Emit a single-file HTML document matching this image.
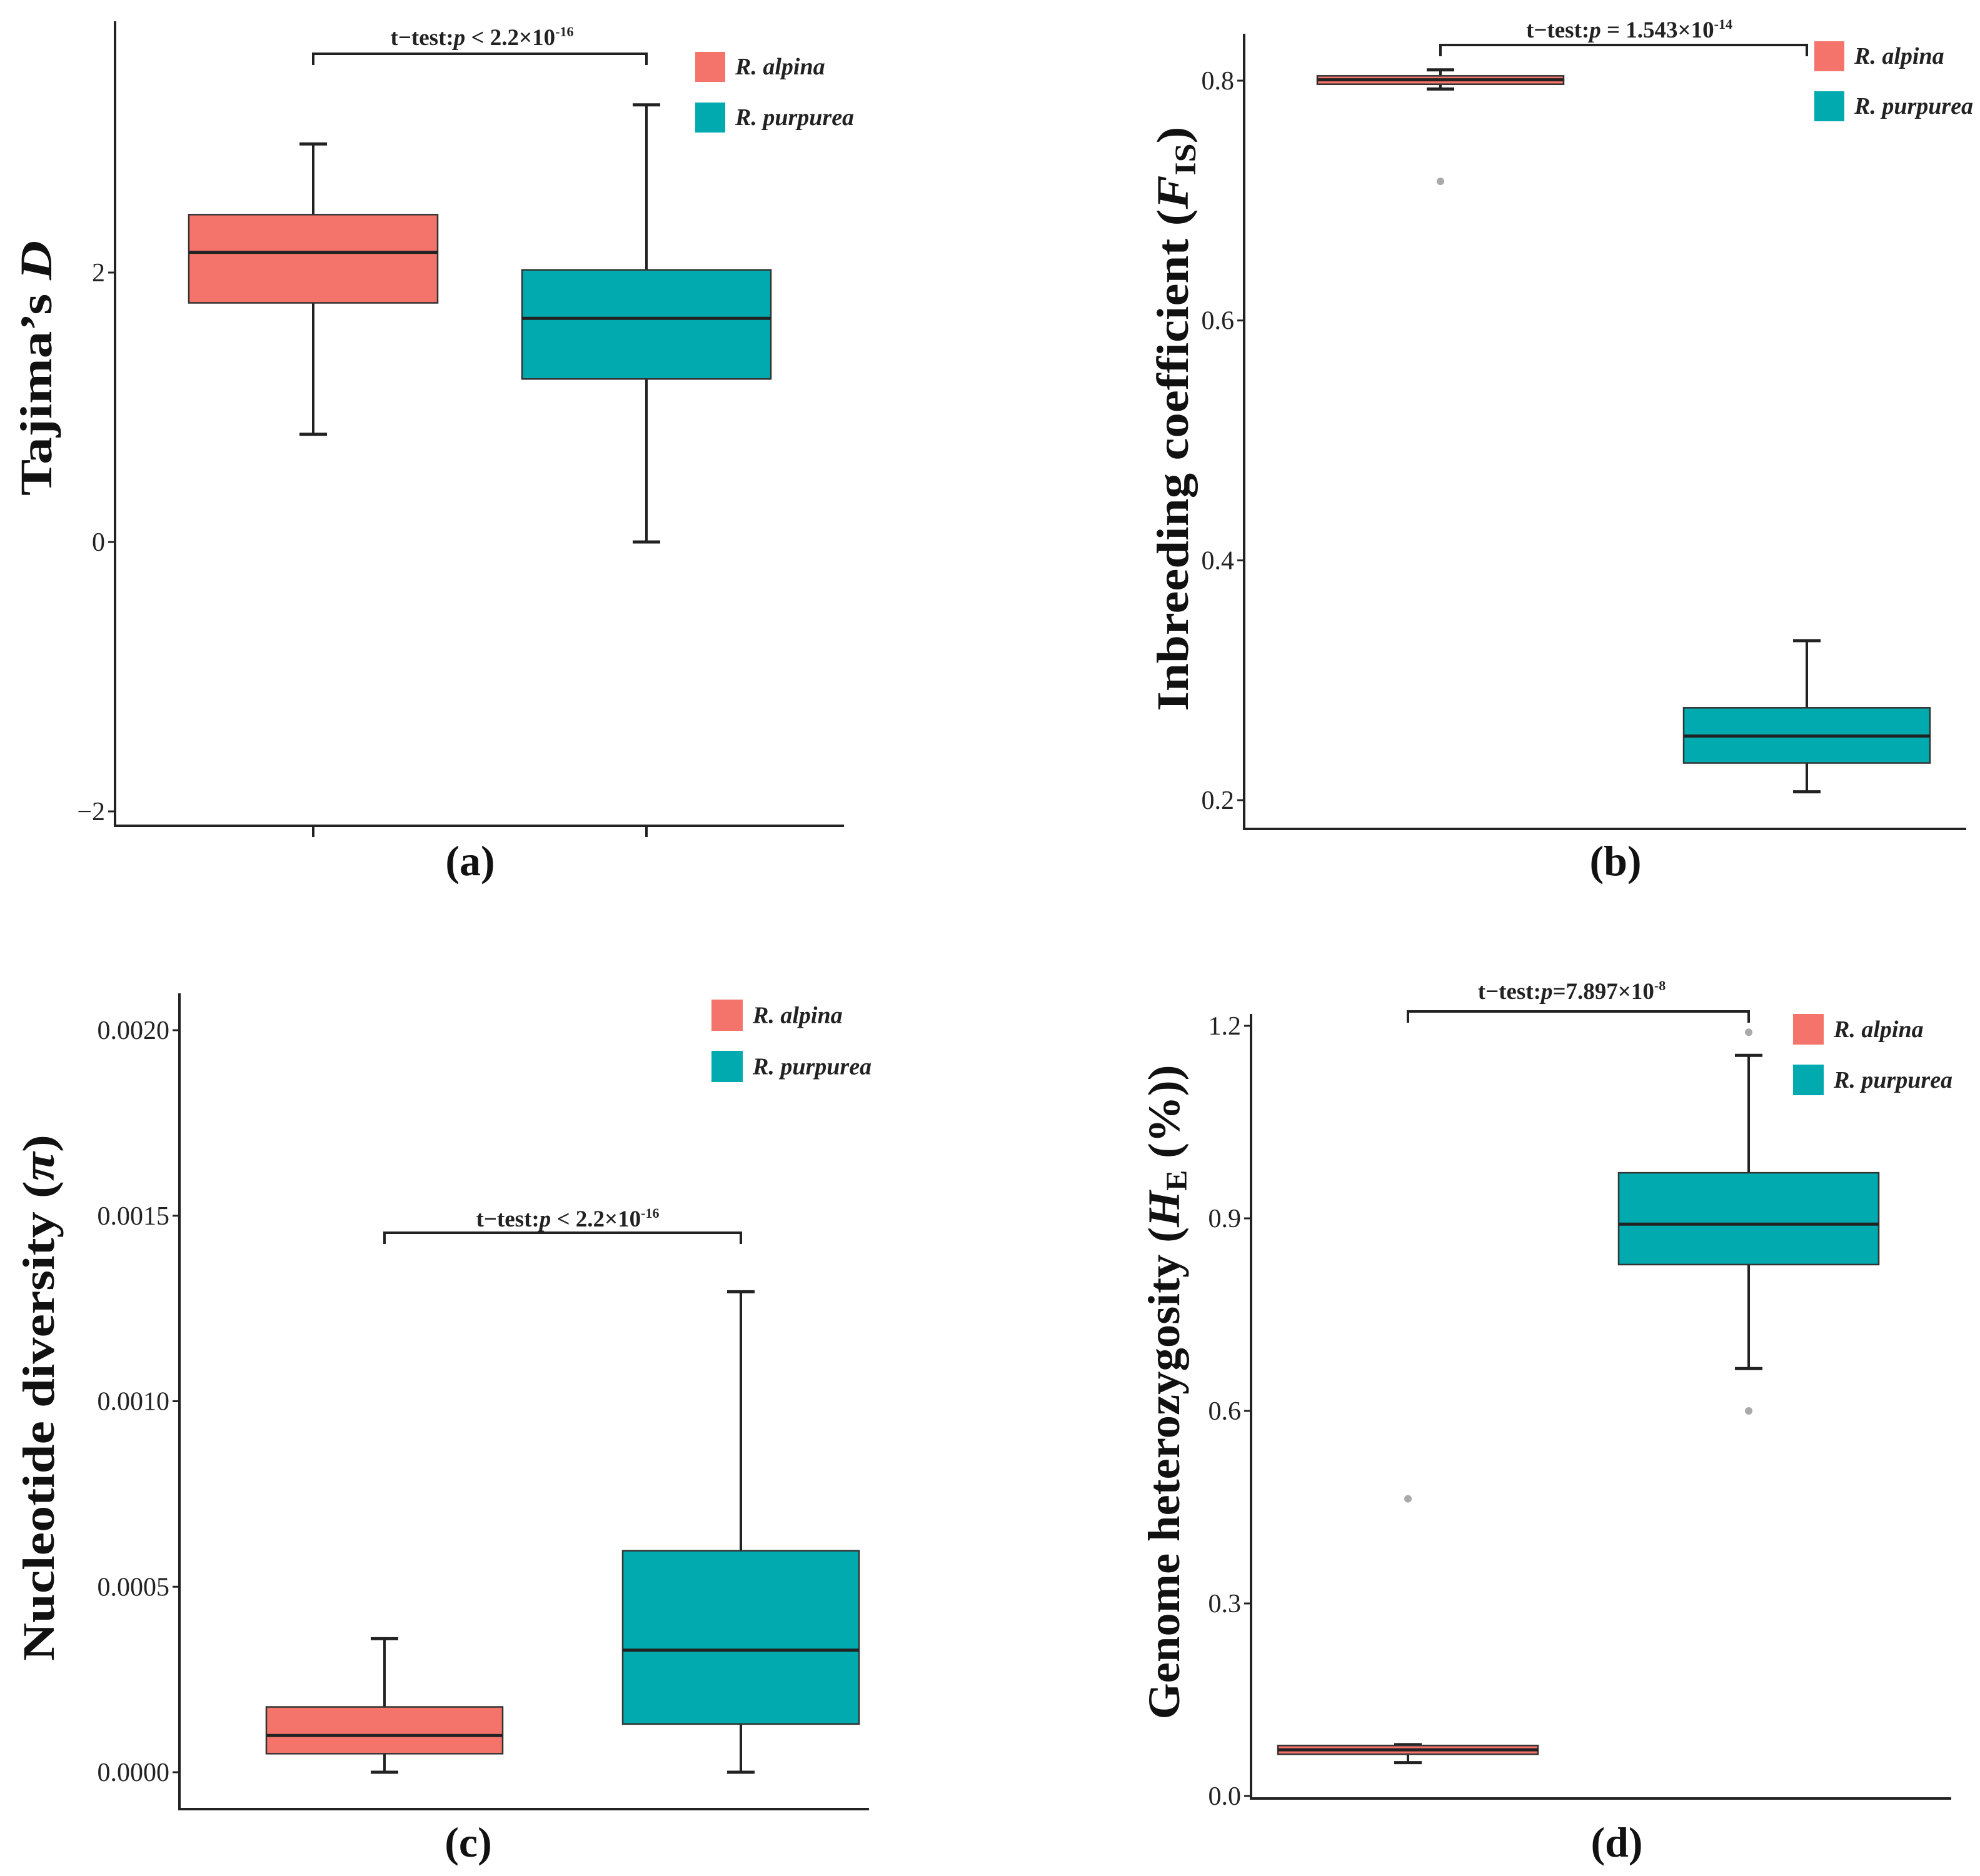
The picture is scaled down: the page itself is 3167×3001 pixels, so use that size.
<!DOCTYPE html>
<html><head><meta charset="utf-8"><style>
html,body{margin:0;padding:0;background:#fff;}
svg{display:block;font-family:"Liberation Serif",serif;}
</style></head><body>
<svg id="fig" width="3167" height="3001" viewBox="0 0 3167 3001" xmlns="http://www.w3.org/2000/svg"></svg>
<script>
// ---- data ----
const groups = ["R. alpina", "R. purpurea"];
const colors = ["#F4736A", "#00AAAE"];
// panel a: Tajima's D  [low, q1, median, q3, high]
const tajimaAlpina = [0.80, 1.775, 2.15, 2.43, 2.955];
const tajimaPurpurea = [0.0, 1.21, 1.66, 2.02, 3.245];
const tajimaTicks = [-2, 0, 2];
// panel b: FIS
const fisAlpina = [0.793, 0.797, 0.8007, 0.804, 0.809];
const fisPurpurea = [0.207, 0.231, 0.2535, 0.277, 0.333];
const fisOutAlpina = [0.716];
const fisOutPurpurea = [];
const fisTicks = [0.2, 0.4, 0.6, 0.8];
// panel c: pi
const piAlpina = [0.0, 0.00005, 0.0000989, 0.000176, 0.00036];
const piPurpurea = [0.0, 0.00013, 0.000329, 0.000597, 0.001295];
const piTicks = [0.0, 0.0005, 0.0010, 0.0015, 0.0020];
// panel d: HE
const heAlpina = [0.052, 0.065, 0.072, 0.0787, 0.08];
const hePurpurea = [0.666, 0.828, 0.891, 0.971, 1.154];
const heOutAlpina = [0.463];
const heOutPurpurea = [1.19, 0.6];
const heTicks = [0.0, 0.3, 0.6, 0.9, 1.2];

const NS = "http://www.w3.org/2000/svg";
const svg = document.getElementById("fig");
function mk(tag, attrs, parent) {
  const e = document.createElementNS(NS, tag);
  for (const k in attrs) e.setAttribute(k, attrs[k]);
  (parent || svg).appendChild(e);
  return e;
}

function panel(cfg) {
  const g = mk("g", {});
  
  
  const y = v => cfg.y0px + (v - cfg.v0) * (cfg.y1px - cfg.y0px) / (cfg.v1 - cfg.v0);
  const ax = mk("path", {d:`M${cfg.ax} ${cfg.top} V${cfg.bottom} H${cfg.right}`, fill:"none", stroke:"#222", "stroke-width":4}, g);
  
  
  cfg.ticks.forEach(t => {
    const yy = y(t);
    const tk = mk("line", {x1:cfg.ax-11, x2:cfg.ax, y1:yy, y2:yy, stroke:"#222", "stroke-width":3}, g);
    
    
    const tl = mk("text", {x:cfg.ax-16, y:yy+14, "text-anchor":"end", "font-size":42, fill:"#222"}, g);
    
    
    tl.textContent = cfg.fmt(t);
  });
  if (cfg.xticks) cfg.centers.forEach(cx => {
    const xt = mk("line", {x1:cx, x2:cx, y1:cfg.bottom, y2:cfg.bottom+18, stroke:"#222", "stroke-width":4}, g);
    
    
  });
  cfg.series.forEach((s, i) => {
    const cx = cfg.centers[i], hw = cfg.halfW, cap = 22;
    const bg = mk("g", {}, g);
    
    
    mk("line", {x1:cx, x2:cx, y1:y(s[4]), y2:y(s[3]), stroke:"#222", "stroke-width":4}, bg);
    mk("line", {x1:cx, x2:cx, y1:y(s[1]), y2:y(s[0]), stroke:"#222", "stroke-width":4}, bg);
    mk("line", {x1:cx-cap, x2:cx+cap, y1:y(s[4]), y2:y(s[4]), stroke:"#222", "stroke-width":5}, bg);
    mk("line", {x1:cx-cap, x2:cx+cap, y1:y(s[0]), y2:y(s[0]), stroke:"#222", "stroke-width":5}, bg);
    mk("rect", {x:cx-hw, y:y(s[3]), width:2*hw, height:Math.max(2, y(s[1])-y(s[3])), fill:colors[i], stroke:"#333", "stroke-width":2.5}, bg);
    mk("line", {x1:cx-hw, x2:cx+hw, y1:y(s[2]), y2:y(s[2]), stroke:"#222", "stroke-width":5}, bg);
    (cfg.outliers[i] || []).forEach(o => {
      const c = mk("circle", {cx:cx, cy:y(o), r:6, fill:"#aaa"}, bg);
      
      
    });
  });
  const b = cfg.bracket;
  const br = mk("path", {d:`M${cfg.centers[0]} ${b.y+18} V${b.y} H${cfg.centers[1]} V${b.y+18}`, fill:"none", stroke:"#222", "stroke-width":4}, g);
  
  
  const pt = mk("text", {x:b.tx, y:b.ty, "text-anchor":"middle", "font-size":37, "font-weight":"bold", fill:"#222"}, g);
  
  
  pt.innerHTML = b.html;
  groups.forEach((name, i) => {
    const ly = cfg.leg.y[i];
    const le = mk("g", {}, g);
    
    
    mk("rect", {x:cfg.leg.x, y:ly, width:cfg.leg.s, height:cfg.leg.s, fill:colors[i]}, le);
    const t = mk("text", {x:cfg.leg.x + cfg.leg.s + 16, y:ly + cfg.leg.s*0.75, "font-size":38, "font-weight":"bold", "font-style":"italic", fill:"#222"}, le);
    t.textContent = name;
  });
  const yl = mk("text", {x:0, y:0, transform:`translate(${cfg.ylab.x},${cfg.ylab.y}) rotate(-90)`, "text-anchor":"middle", "font-size":72, "font-weight":"bold", fill:"#111", textLength:cfg.ylab.len, lengthAdjust:"spacingAndGlyphs"}, g);
  
  
  yl.innerHTML = cfg.ylab.html;
  const pl = mk("text", {x:cfg.plab.x, y:cfg.plab.y, "text-anchor":"middle", "font-size":68, "font-weight":"bold", fill:"#111"}, g);
  
  
  pl.textContent = cfg.plab.t;
}

panel({name:"panel-a-tajima", ax:184, top:34, bottom:1321, right:1350,
  v0:0, y0px:867, v1:2, y1px:436, ticks:tajimaTicks, fmt:t => t < 0 ? "\u2212" + Math.abs(t) : String(t),
  xticks:true, centers:[501, 1034], halfW:199, series:[tajimaAlpina, tajimaPurpurea], outliers:[[],[]],
  bracket:{y:86, tx:771, ty:72, html:'t\u2212test:<tspan font-style="italic">p</tspan> &lt; 2.2\u00d710<tspan font-size="22" dy="-14">-16</tspan>'},
  leg:{x:1112, y:[83, 164], s:48},
  ylab:{x:82, y:589, len:408, html:'Tajima\u2019s <tspan font-style="italic">D</tspan>'},
  plab:{x:752, y:1400, t:"(a)"}});

panel({name:"panel-b-fis", ax:1990, top:54, bottom:1326, right:3145,
  v0:0.8, y0px:129, v1:0.2, y1px:1280, ticks:fisTicks, fmt:t => t.toFixed(1),
  xticks:false, centers:[2304, 2890], halfW:197, series:[fisAlpina, fisPurpurea], outliers:[fisOutAlpina, fisOutPurpurea],
  bracket:{y:72, tx:2606, ty:60, html:'t\u2212test:<tspan font-style="italic">p</tspan> = 1.543\u00d710<tspan font-size="22" dy="-14">-14</tspan>'},
  leg:{x:2902, y:[66, 146], s:48},
  ylab:{x:1900, y:670, len:935, html:'Inbreeding coefficient (<tspan font-style="italic">F</tspan><tspan font-size="48" dy="12">IS</tspan><tspan dy="-12">)</tspan>'},
  plab:{x:2584, y:1400, t:"(b)"}});

panel({name:"panel-c-pi", ax:287, top:1589, bottom:2894, right:1390,
  v0:0, y0px:2835, v1:0.002, y1px:1648, ticks:piTicks, fmt:t => t.toFixed(4),
  xticks:false, centers:[615, 1185], halfW:189, series:[piAlpina, piPurpurea], outliers:[[],[]],
  bracket:{y:1972, tx:908, ty:1962, html:'t\u2212test:<tspan font-style="italic">p</tspan> &lt; 2.2\u00d710<tspan font-size="22" dy="-14">-16</tspan>'},
  leg:{x:1138, y:[1599, 1681], s:50},
  ylab:{x:86, y:2236, len:842, html:'Nucleotide diversity (<tspan font-style="italic">\u03c0</tspan>)'},
  plab:{x:749, y:2970, t:"(c)"}});

panel({name:"panel-d-he", ax:2001, top:1622, bottom:2877, right:3121,
  v0:0, y0px:2873, v1:1.2, y1px:1641, ticks:heTicks, fmt:t => t.toFixed(1),
  xticks:false, centers:[2252, 2797], halfW:208, series:[heAlpina, hePurpurea], outliers:[heOutAlpina, heOutPurpurea],
  bracket:{y:1618, tx:2514, ty:1598, html:'t\u2212test:<tspan font-style="italic">p</tspan>=7.897\u00d710<tspan font-size="22" dy="-14">-8</tspan>'},
  leg:{x:2868, y:[1622, 1703], s:49},
  ylab:{x:1886, y:2227, len:1047, html:'Genome heterozygosity (<tspan font-style="italic">H</tspan><tspan font-size="48" dy="12">E</tspan><tspan dy="-12"> (%))</tspan>'},
  plab:{x:2586, y:2970, t:"(d)"}});
</script>
</body></html>
